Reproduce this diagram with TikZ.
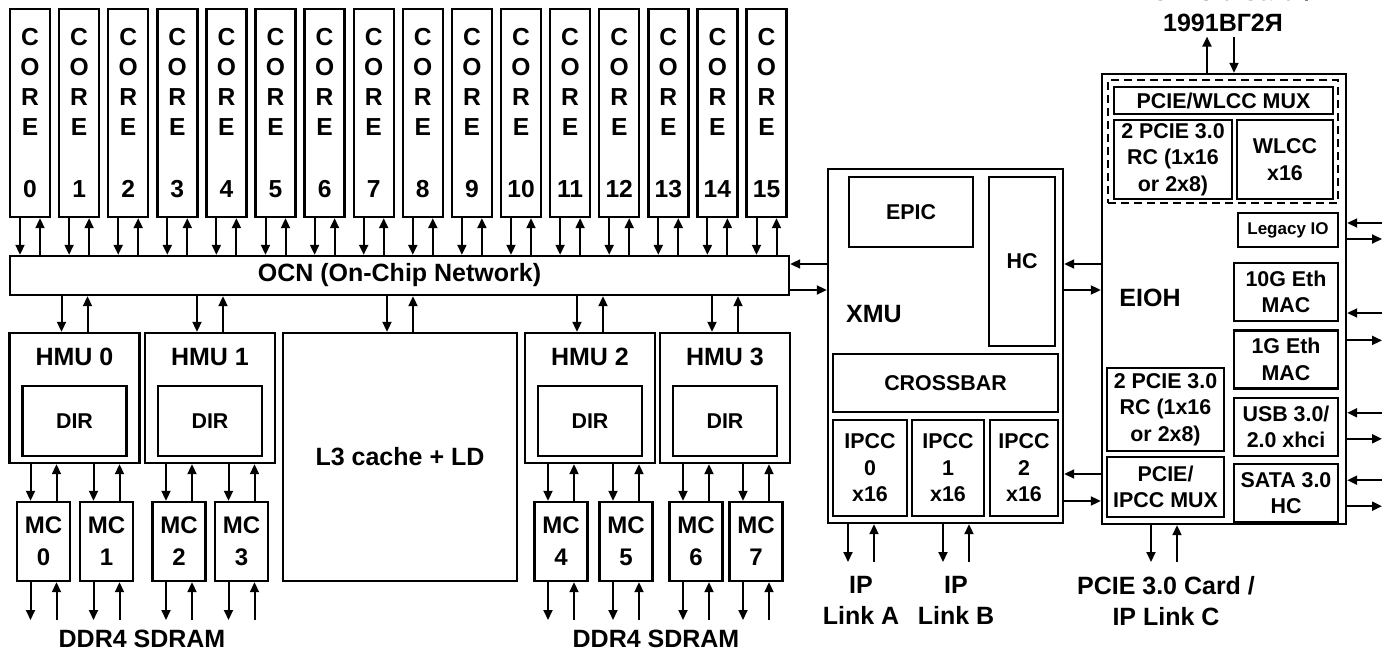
\documentclass[tikz,border=0pt]{standalone}
\usepackage{fontspec}
\setmainfont{Liberation Sans}
\usetikzlibrary{arrows.meta,positioning}
\newcommand\bigf{\fontsize{12.5}{15.5}\selectfont\bfseries}
\newcommand\coref{\fontsize{12.3}{15}\selectfont\bfseries}
\newcommand\mcf{\fontsize{12}{16}\selectfont\bfseries}
\newcommand\midf{\fontsize{10.7}{13.3}\selectfont\bfseries}
\newcommand\smlf{\fontsize{8.5}{10}\selectfont\bfseries}
\tikzset{
  blk/.style={draw, rectangle, line width=1.2pt, inner sep=0pt, align=center, font=\bigf},
  sblk/.style={blk, font=\midf},
  core/.style={blk, font=\coref, minimum width=20pt, minimum height=104pt},
  hmu/.style={blk, minimum width=65pt, minimum height=65pt},
  dir/.style={sblk, minimum width=52pt, minimum height=35pt},
  mc/.style={blk, font=\mcf, minimum width=26.5pt, minimum height=39.5pt},
  io/.style={sblk, minimum width=52pt, minimum height=29pt},
  ipcc/.style={sblk, minimum height=48pt},
  lbl/.style={align=center, font=\bigf, inner sep=2pt},
  arr/.style={-{Triangle[length=5pt,width=4.5pt]}, line width=1pt},
}
\begin{document}
\begin{tikzpicture}[x=0.5pt, y=-0.5pt]
\useasboundingbox (0,0) rectangle (1382,652);

\foreach \i in {0,...,15}
  \node[core] (c\i) at ({30+49.1*\i},113) {C\\O\\R\\E\\[16pt]\i};

\node[blk, minimum width=389.5pt, minimum height=19.5pt] (ocn) at (399.5,275.5) {OCN (On-Chip Network)};

\node[hmu, label={[lbl, anchor=center, yshift=-12.5pt]north:HMU 0}] (hmu0) at (74.5,398) {};
\node[hmu, label={[lbl, anchor=center, yshift=-12.5pt]north:HMU 1}] (hmu1) at (210,398) {};
\node[blk, minimum width=117pt, minimum height=124pt] (l3) at (400,457) {L3 cache + LD};
\node[hmu, label={[lbl, anchor=center, yshift=-12.5pt]north:HMU 2}] (hmu2) at (590,398) {};
\node[hmu, label={[lbl, anchor=center, yshift=-12.5pt]north:HMU 3}] (hmu3) at (725,398) {};
\foreach \i in {0,...,3}
  \node[dir] (dir\i) at ([yshift=-11.5pt]hmu\i.center) {DIR};

\foreach \i/\x in {0/43.5,1/106.5,2/179,3/241.5,4/561,5/626,6/696,7/756}
  \node[mc] (mc\i) at (\x,541.5) {MC\\\i};

\coordinate (ddr) at (0,620);
\node[lbl] (ddra) at (142,639) {DDR4 SDRAM};
\node[lbl] (ddrb) at (656,639) {DDR4 SDRAM};

\node[blk, minimum width=117.5pt, minimum height=177pt] (xmu) at (945.5,346) {};
\node[font=\bigf, inner sep=0pt] (xmul) at (874,314) {XMU};
\node[sblk, minimum width=62pt, minimum height=35pt] (epic) at (911,212) {EPIC};
\node[sblk, minimum width=33pt, minimum height=84.5pt] (hc) at (1022,261.5) {HC};
\node[sblk, minimum width=112.5pt, minimum height=29pt] (xbar) at (945.5,383) {CROSSBAR};
\node[ipcc, minimum width=37pt] (ipcc0) at (870,468) {IPCC\\0\\x16};
\node[ipcc, minimum width=36pt] (ipcc1) at (948,468) {IPCC\\1\\x16};
\node[ipcc, minimum width=34pt] (ipcc2) at (1024,468) {IPCC\\2\\x16};

\node[blk, minimum width=122pt, minimum height=225pt] (eioh) at (1224,299) {};
\node[font=\bigf, inner sep=0pt] (eiohl) at (1150,298) {EIOH};
\node[draw, line width=1.2pt, dash pattern=on 4pt off 2.5pt, minimum width=115pt, minimum height=61.5pt] (pwgrp) at (1223,141.5) {};
\node[sblk, minimum width=109.5pt, minimum height=13.5pt] (pwmux) at (1223.5,100.5) {PCIE/WLCC MUX};
\node[sblk, minimum width=59pt, minimum height=39.5pt] (rca) at (1173,159.5) {2 PCIE 3.0\\RC (1x16\\or 2x8)};
\node[sblk, minimum width=48pt, minimum height=39.5pt] (wlcc) at (1285,159.5) {WLCC\\x16};
\node[sblk, font=\smlf, minimum width=50pt, minimum height=17pt] (lio) at (1288,230) {Legacy IO};
\node[io] (tg) at (1286,292) {10G Eth\\MAC};
\node[io, below=3.5pt of tg] (gb) {1G Eth\\MAC};
\node[io, below=3.5pt of gb] (usb) {USB 3.0/\\2.0 xhci};
\node[io, below=3pt of usb] (sata) {SATA 3.0\\HC};
\node[sblk, minimum width=58.5pt, minimum height=41.5pt] (rcb) at (1165.5,409.5) {2 PCIE 3.0\\RC (1x16\\or 2x8)};
\node[sblk, minimum width=58.5pt, minimum height=30pt] (pimux) at (1165.5,487) {PCIE/\\IPCC MUX};

\node[lbl] (card) at (1223,7.5) {PCIE 3.0 Card /\\1991ВГ2Я};
\coordinate (lo) at (0,562);
\node[lbl] (lnka) at (861,600) {IP\\Link A};
\node[lbl] (lnkb) at (956,600) {IP\\Link B};
\node[lbl] (lnkc) at (1166,601) {PCIE 3.0 Card /\\IP Link C};
\coordinate (redge) at (1382,0);

\foreach \i in {0,...,15} {
  \draw[arr] ([xshift=-5pt]c\i.south) -- ([xshift=-5pt]c\i.south |- ocn.north);
  \draw[arr] ([xshift=5pt]c\i.south |- ocn.north) -- ([xshift=5pt]c\i.south);
}
\foreach \n in {hmu0,hmu1,l3,hmu2,hmu3} {
  \draw[arr] ([xshift=-6.5pt]\n.north |- ocn.south) -- ([xshift=-6.5pt]\n.north);
  \draw[arr] ([xshift=6.5pt]\n.north) -- ([xshift=6.5pt]\n.north |- ocn.south);
}
\foreach \i in {0,...,7} {
  \pgfmathtruncatemacro\h{\i/2}
  \draw[arr] ([xshift=-6.5pt]mc\i.north |- hmu\h.south) -- ([xshift=-6.5pt]mc\i.north);
  \draw[arr] ([xshift=6.5pt]mc\i.north) -- ([xshift=6.5pt]mc\i.north |- hmu\h.south);
  \draw[arr] ([xshift=-6.5pt]mc\i.south) -- ([xshift=-6.5pt]mc\i.south |- ddr);
  \draw[arr] ([xshift=6.5pt]mc\i.south |- ddr) -- ([xshift=6.5pt]mc\i.south);
}

\draw[arr] ([yshift=5.75pt]ocn.east -| xmu.west) -- ([yshift=5.75pt]ocn.east);
\draw[arr] ([yshift=-7.25pt]ocn.east) -- ([yshift=-7.25pt]ocn.east -| xmu.west);
\draw[arr] ([yshift=-1.25pt]hc.east -| eioh.west) -- ([yshift=-1.25pt]hc.east -| xmu.east);
\draw[arr] ([yshift=-14.25pt]hc.east -| xmu.east) -- ([yshift=-14.25pt]hc.east -| eioh.west);
\draw[arr] ([yshift=6.5pt]pimux.west -| eioh.west) -- ([yshift=6.5pt]pimux.west -| xmu.east);
\draw[arr] ([yshift=-7pt]pimux.west -| xmu.east) -- ([yshift=-7pt]pimux.west -| eioh.west);

\foreach \n in {lnka,lnkb} {
  \draw[arr] ([xshift=-6.5pt]\n.north |- xmu.south) -- ([xshift=-6.5pt]\n.north |- lo);
  \draw[arr] ([xshift=6.5pt]\n.north |- lo) -- ([xshift=6.5pt]\n.north |- xmu.south);
}
\draw[arr] ([xshift=-7.5pt]lnkc.north |- eioh.south) -- ([xshift=-7.5pt]lnkc.north |- lo);
\draw[arr] ([xshift=5.5pt]lnkc.north |- lo) -- ([xshift=5.5pt]lnkc.north |- eioh.south);

\draw[arr] ([xshift=-8pt]card.south |- eioh.north) -- ([xshift=-8pt]card.south);
\draw[arr] ([xshift=5.5pt]card.south) -- ([xshift=5.5pt]card.south |- eioh.north);

\draw[arr] ([yshift=3.5pt]lio.east -| redge) -- ([yshift=3.5pt]lio.east -| eioh.east);
\draw[arr] ([yshift=-4.5pt]lio.east -| eioh.east) -- ([yshift=-4.5pt]lio.east -| redge);
\draw[arr] ([yshift=-10.5pt]tg.east -| redge) -- ([yshift=-10.5pt]tg.east -| eioh.east);
\draw[arr] ([yshift=9.5pt]gb.east -| eioh.east) -- ([yshift=9.5pt]gb.east -| redge);
\draw[arr] ([yshift=7pt]usb.east -| redge) -- ([yshift=7pt]usb.east -| eioh.east);
\draw[arr] ([yshift=-6pt]usb.east -| eioh.east) -- ([yshift=-6pt]usb.east -| redge);
\draw[arr] ([yshift=6.5pt]sata.east -| redge) -- ([yshift=6.5pt]sata.east -| eioh.east);
\draw[arr] ([yshift=-6.5pt]sata.east -| eioh.east) -- ([yshift=-6.5pt]sata.east -| redge);
\end{tikzpicture}
\end{document}
